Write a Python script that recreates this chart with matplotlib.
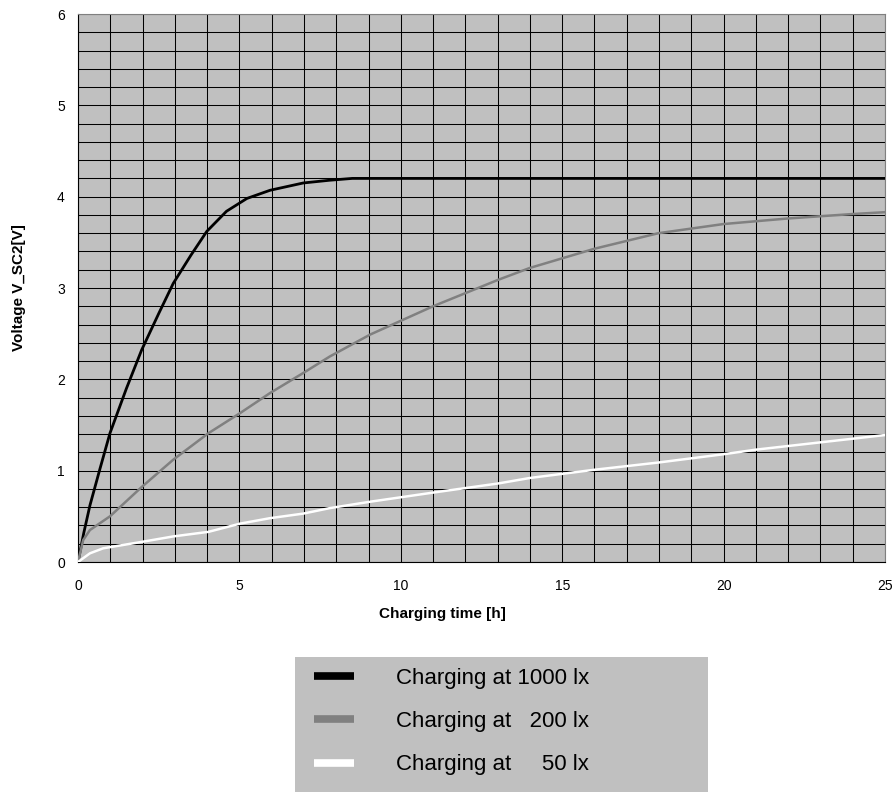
import numpy as np
import matplotlib.pyplot as plt
from matplotlib.lines import Line2D
from matplotlib.ticker import MultipleLocator

plt.rcParams['font.family'] = ['Liberation Sans', 'DejaVu Sans']

# values
t_1000 = [0, 0.18, 0.37, 0.68, 0.99, 1.5, 1.97, 2.5, 2.95, 3.5, 3.99, 4.6, 5.23, 5.95, 6.98, 7.8, 8.5, 10, 15, 20, 25]
v_1000 = [0, 0.32, 0.62, 1.02, 1.41, 1.9, 2.32, 2.72, 3.05, 3.36, 3.62, 3.84, 3.98, 4.07, 4.15, 4.18, 4.2, 4.2, 4.2, 4.2, 4.2]

t_200 = [0, 0.16, 0.37, 0.99, 1.97, 2.95, 4.04, 5.02, 5.95, 6.98, 7.8, 9.05, 11.0, 13.02, 14.0, 16.0, 17.98, 19.99, 21.95, 24.0, 25]
v_200 = [0, 0.24, 0.35, 0.50, 0.82, 1.12, 1.41, 1.63, 1.85, 2.07, 2.25, 2.49, 2.80, 3.09, 3.22, 3.43, 3.60, 3.70, 3.76, 3.81, 3.83]

t_50 = [0, 0.37, 0.78, 1.97, 2.95, 4.04, 5.02, 5.95, 6.98, 7.8, 9.05, 11.0, 13.02, 14.0, 16.0, 18.0, 20.0, 21.0, 23.0, 25]
v_50 = [0, 0.095, 0.15, 0.22, 0.28, 0.33, 0.42, 0.48, 0.53, 0.59, 0.66, 0.76, 0.86, 0.92, 1.01, 1.09, 1.18, 1.23, 1.31, 1.39]

labels = ['Charging at 1000 lx', 'Charging at   200 lx', 'Charging at     50 lx']
colors = ['#000000', '#808080', '#ffffff']

fig = plt.figure(figsize=(8.95, 7.92), dpi=100)
ax = fig.add_axes([78/895, 1 - 562/792, 807/895, 548/792])
ax.set_facecolor('#c0c0c0')

ax.xaxis.set_major_locator(MultipleLocator(5))
ax.xaxis.set_minor_locator(MultipleLocator(1))
ax.yaxis.set_major_locator(MultipleLocator(1))
ax.yaxis.set_minor_locator(MultipleLocator(0.2))
ax.grid(which='both', color='#000000', linewidth=0.75)
ax.set_axisbelow(True)

ax.plot(t_1000, v_1000, color=colors[0], lw=2.0, zorder=3)
ax.plot(t_200, v_200, color=colors[1], lw=1.8, zorder=3)
ax.plot(t_50, v_50, color=colors[2], lw=1.8, zorder=3)

ax.set_xlim(0, 25)
ax.set_ylim(0, 6)
ax.tick_params(which='both', length=0, labelsize=10)
ax.tick_params(axis='x', pad=12.5)
ax.tick_params(axis='y', pad=9.5)

for s in ['left', 'bottom']:
    ax.spines[s].set_color('#000000')
for s in ['top', 'right']:
    ax.spines[s].set_color('#808080')

ax.set_xlabel('Charging time [h]', fontsize=11, fontweight='bold')
ax.set_ylabel('Voltage V_SC2[V]', fontsize=11, fontweight='bold')
ax.xaxis.set_label_coords(0.452, -0.082)
ax.yaxis.set_label_coords(-0.064, 0.5)

# legend box at the bottom
lax = fig.add_axes([295/895, 0, 413/895, (792 - 657)/792])
lax.set_facecolor('#c0c0c0')
lax.set_xticks([])
lax.set_yticks([])
for s in lax.spines.values():
    s.set_visible(False)

handles = [Line2D([], [], color=c, lw=5.5, solid_capstyle='butt') for c in colors]
fig.legend(handles, labels, loc='upper left', bbox_to_anchor=(314/895, 1 - 668/792),
           bbox_transform=fig.transFigure, frameon=False, fontsize=16,
           handlelength=1.8, handletextpad=1.9, labelspacing=1.0,
           borderpad=0, borderaxespad=0)

fig.savefig('out.png', dpi=100)
